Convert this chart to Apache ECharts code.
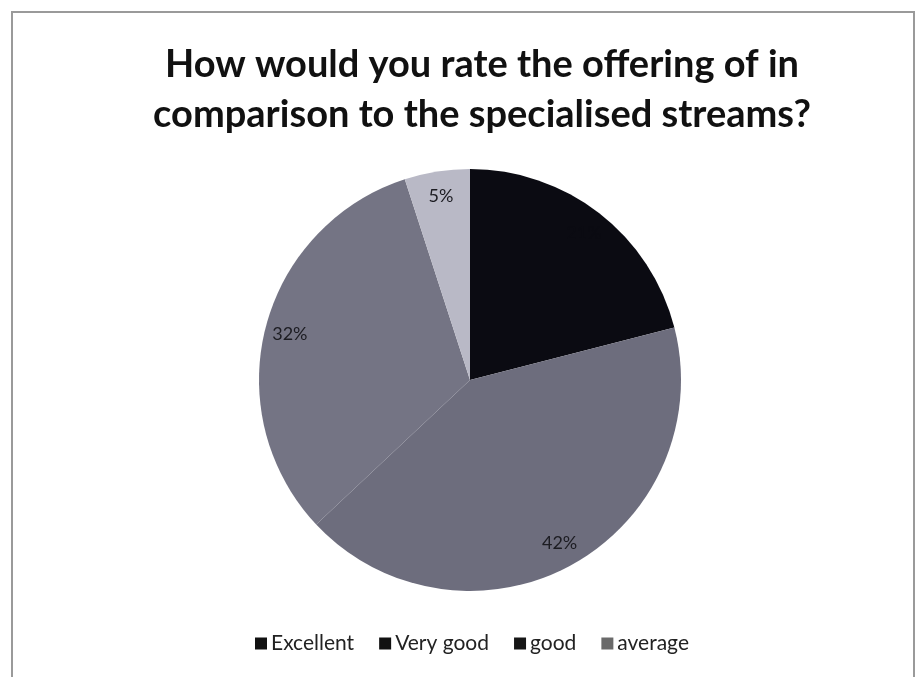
<!DOCTYPE html>
<html>
<head>
<meta charset="utf-8">
<script src="https://cdn.jsdelivr.net/npm/echarts@6/dist/echarts.min.js"></script>
<style>
  html, body { margin: 0; padding: 0; background: #fff; }
  #chart { width: 918px; height: 677px; }
</style>
</head>
<body>
<div id="chart"></div>
<script>
var categories = ['Excellent', 'Very good', 'good', 'average'];
var values = [21, 42, 32, 5];
var colors = ['#0b0b12', '#6d6d7d', '#747484', '#b9b9c6'];
var legendColors = ['#111', '#111', '#161616', '#6a6a6a'];

var myChart = echarts.init(document.getElementById('chart'));

var pieData = categories.map(function (name, i) {
    return { name: name, value: values[i], itemStyle: { color: colors[i] } };
});

// a transparent ring over the outer part of the pie, only to put the labels near the edge
var labelData = categories.map(function (name, i) {
    var d = { name: name, value: values[i] };
    if (i === 0) d.label = { color: colors[0] };
    return d;
});

var legendData = categories.map(function (name, i) {
    return { name: name, itemStyle: { color: legendColors[i] } };
});

var option = {
    animation: false,
    backgroundColor: '#fff',
    title: {
        text: 'How would you rate the offering of in\ncomparison to the specialised streams?',
        left: 477,
        textAlign: 'center',
        top: 35,
        textStyle: {
            fontFamily: 'Lato',
            fontWeight: 'bold',
            fontSize: 38,
            lineHeight: 50,
            color: '#111'
        }
    },
    legend: {
        bottom: 18,
        left: 250,
        icon: 'rect',
        itemWidth: 12,
        itemHeight: 12,
        itemGap: 25,
        data: legendData,
        selectedMode: false,
        textStyle: {
            fontFamily: 'Lato',
            fontSize: 21,
            color: '#222',
            padding: [0, 0, 0, -1]
        }
    },
    graphic: [{
        type: 'rect',
        shape: { x: 12, y: 12, width: 902, height: 700 },
        style: { fill: 'none', stroke: '#9a9a9a', lineWidth: 2 },
        silent: true
    }],
    series: [
        {
            type: 'pie',
            center: [470, 380],
            radius: [0, 211],
            startAngle: 90,
            clockwise: true,
            label: { show: false },
            labelLine: { show: false },
            itemStyle: { borderWidth: 0 },
            data: pieData
        },
        {
            type: 'pie',
            center: [470, 380],
            radius: [155, 211],
            startAngle: 90,
            clockwise: true,
            silent: true,
            itemStyle: { color: 'rgba(0,0,0,0)', borderWidth: 0 },
            label: {
                show: true,
                position: 'inside',
                formatter: '{d}%',
                fontFamily: 'Lato',
                fontSize: 18,
                color: '#1c1c22'
            },
            labelLine: { show: false },
            data: labelData
        }
    ]
};
myChart.setOption(option);
</script>
</body>
</html>
